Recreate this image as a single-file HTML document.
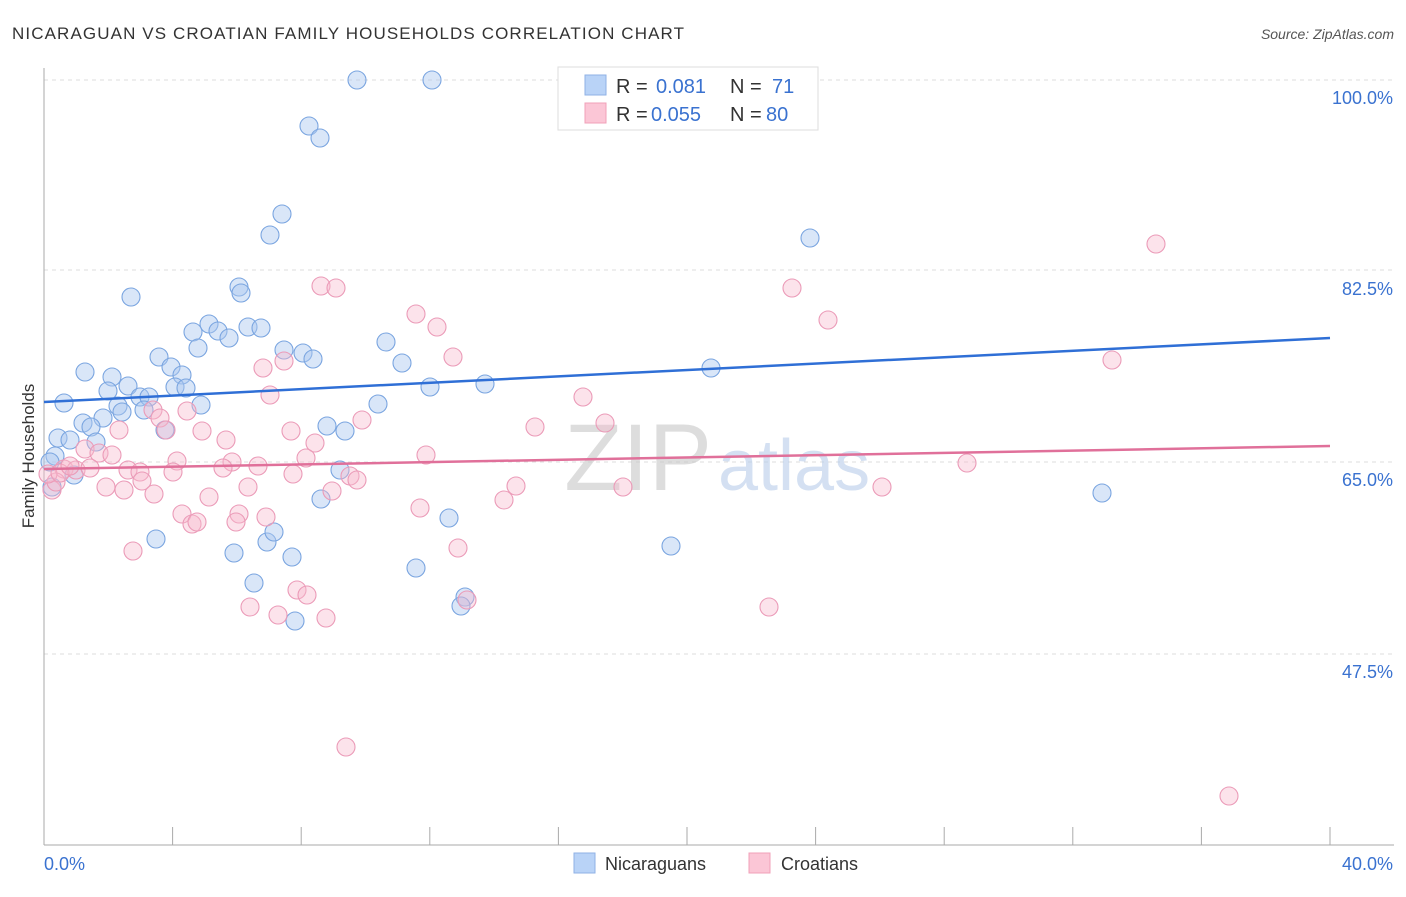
<!DOCTYPE html>
<html><head><meta charset="utf-8"><style>
body{margin:0;background:#fff;font-family:"Liberation Sans",sans-serif;}
svg text{font-family:"Liberation Sans",sans-serif;}
</style></head><body>
<svg width="1406" height="892" xmlns="http://www.w3.org/2000/svg" id="s">
<text x="12" y="39" font-size="17" fill="#333" textLength="672" lengthAdjust="spacing">NICARAGUAN VS CROATIAN FAMILY HOUSEHOLDS CORRELATION CHART</text>
<text x="1394" y="39" font-size="14" fill="#555" font-style="italic" text-anchor="end">Source: ZipAtlas.com</text>
<g stroke="#ddd" stroke-dasharray="4,4" stroke-width="1">
<line x1="44" y1="80" x2="1394" y2="80"/><line x1="44" y1="270" x2="1394" y2="270"/><line x1="44" y1="462" x2="1394" y2="462"/><line x1="44" y1="654" x2="1394" y2="654"/>
</g>
<line x1="44" y1="68" x2="44" y2="845" stroke="#aaa"/>
<line x1="44" y1="845" x2="1394" y2="845" stroke="#aaa"/>
<g stroke="#aaa" id="ticks"></g>
<text x="712" y="490" font-size="95" fill="#c8c8c8" opacity="0.6" font-family="Liberation Serif" text-anchor="end">ZIP</text>
<text x="718" y="490" font-size="72" fill="#b8cdea" opacity="0.6">atlas</text>
<g font-size="18" fill="#3a72d0" text-anchor="end">
<text x="1393" y="104">100.0%</text><text x="1393" y="295">82.5%</text><text x="1393" y="486">65.0%</text><text x="1393" y="678">47.5%</text>
</g>
<text x="44" y="870" font-size="18" fill="#3a72d0">0.0%</text>
<text x="1393" y="870" font-size="18" fill="#3a72d0" text-anchor="end">40.0%</text>
<text transform="translate(34,456) rotate(-90)" font-size="17" fill="#333" text-anchor="middle">Family Households</text>
<g id="pts"></g>
<line x1="44" y1="402" x2="1330" y2="338" stroke="#2f6fd6" stroke-width="2.5"/>
<line x1="44" y1="469" x2="1330" y2="446" stroke="#e0709a" stroke-width="2.5"/>
<rect x="558" y="67" width="260" height="63" fill="#fff" stroke="#ddd"/>
<rect x="585" y="75" width="21" height="20" fill="#b9d3f7" stroke="#8fb2e6"/>
<rect x="585" y="103" width="21" height="20" fill="#fbc6d6" stroke="#f0a0b8"/>
<g font-size="20">
<text x="616" y="93" fill="#333">R = </text><text x="656" y="93" fill="#3a72d0">0.081</text><text x="730" y="93" fill="#333">N = </text><text x="772" y="93" fill="#3a72d0">71</text>
<text x="616" y="121" fill="#333">R = </text><text x="651" y="121" fill="#3a72d0">0.055</text><text x="730" y="121" fill="#333">N = </text><text x="766" y="121" fill="#3a72d0">80</text>
</g>
<rect x="574" y="853" width="21" height="20" fill="#b9d3f7" stroke="#8fb2e6"/>
<text x="605" y="870" font-size="18" fill="#333">Nicaraguans</text>
<rect x="749" y="853" width="21" height="20" fill="#fbc6d6" stroke="#f0a0b8"/>
<text x="781" y="870" font-size="18" fill="#333">Croatians</text>
</svg>
<script>
var ns="http://www.w3.org/2000/svg";
var t=document.getElementById("ticks");
for(var i=0;i<=10;i++){var x=44+i*128.6;var l=document.createElementNS(ns,"line");l.setAttribute("x1",x);l.setAttribute("x2",x);l.setAttribute("y1",827);l.setAttribute("y2",845);t.appendChild(l);}
var B=[[357,80],[432,80],[746,80],[309,126],[320,138],[282,214],[270,235],[810,238],[131,297],[239,287],[241,293],[209,324],[248,327],[261,328],[193,332],[218,331],[229,338],[198,348],[386,342],[159,357],[284,350],[303,353],[313,359],[402,363],[711,368],[85,372],[171,367],[182,375],[112,377],[128,386],[175,387],[186,388],[108,391],[430,387],[485,384],[64,403],[140,397],[149,397],[118,406],[144,410],[201,405],[378,404],[122,412],[103,418],[83,423],[165,430],[91,427],[327,426],[345,431],[58,438],[70,440],[96,442],[55,456],[74,475],[340,470],[1102,493],[321,499],[449,518],[156,539],[267,542],[274,532],[234,553],[292,557],[671,546],[416,568],[254,583],[465,597],[461,606],[295,621],[52,487],[50,462]];
var P=[[1156,244],[321,286],[336,288],[792,288],[416,314],[828,320],[437,327],[263,368],[284,361],[453,357],[1112,360],[270,395],[583,397],[153,410],[187,411],[160,418],[605,423],[119,430],[291,431],[362,420],[535,427],[202,431],[226,440],[315,443],[166,430],[85,449],[99,453],[112,455],[306,458],[426,455],[177,461],[232,462],[258,466],[223,468],[64,469],[76,470],[90,468],[128,470],[140,472],[173,472],[293,474],[350,476],[357,480],[142,481],[106,487],[124,490],[248,487],[332,491],[516,486],[623,487],[882,487],[967,463],[154,494],[209,497],[504,500],[420,508],[182,514],[239,514],[266,517],[192,524],[197,522],[236,522],[133,551],[458,548],[297,590],[307,595],[250,607],[278,615],[326,618],[769,607],[467,600],[346,747],[1229,796],[52,490],[56,482],[48,474],[60,473],[70,466]];
var g=document.getElementById("pts");
function add(a,f,s){a.forEach(function(p){var c=document.createElementNS(ns,"circle");c.setAttribute("cx",p[0]);c.setAttribute("cy",p[1]);c.setAttribute("r",9);c.setAttribute("fill",f);c.setAttribute("stroke",s);c.setAttribute("stroke-width",1.1);g.appendChild(c);});}
add(B,"rgba(170,200,240,0.45)","#7aa5e0");
add(P,"rgba(248,185,205,0.4)","#eb9bb8");
</script>
</body></html>
